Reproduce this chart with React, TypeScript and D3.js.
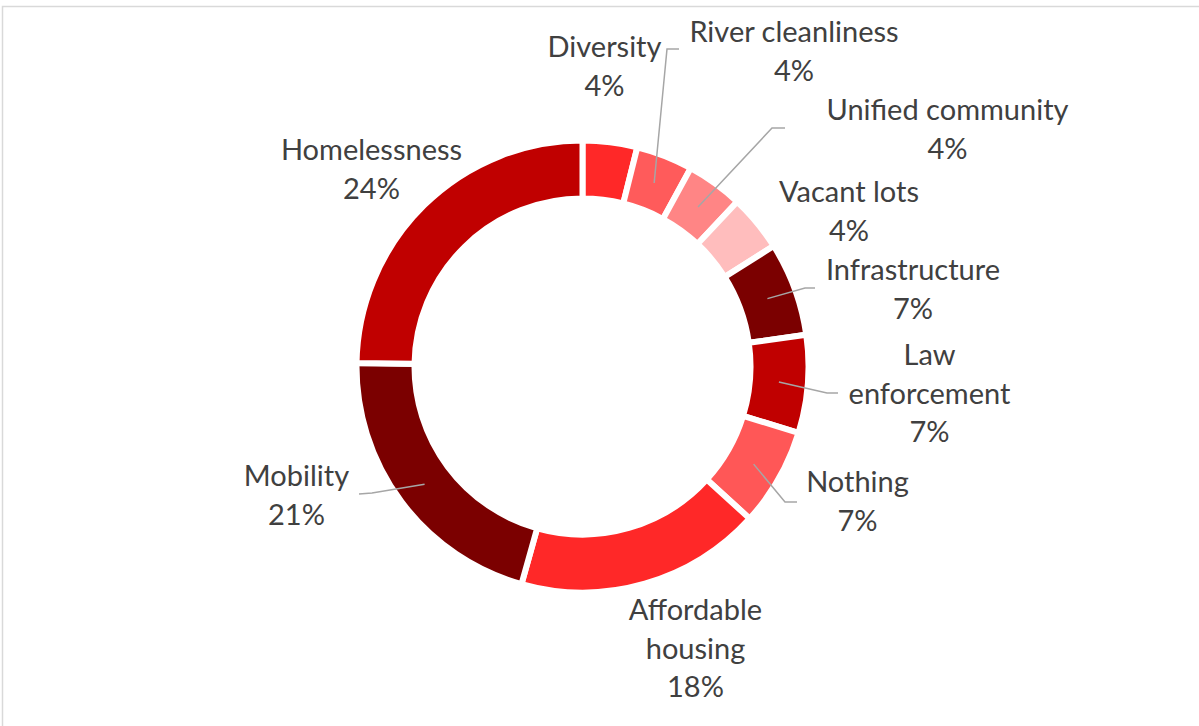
import React from "react";
import * as d3 from "d3";

// ---- data ----
const categories = [
  "Diversity",
  "River cleanliness",
  "Unified community",
  "Vacant lots",
  "Infrastructure",
  "Law enforcement",
  "Nothing",
  "Affordable housing",
  "Mobility",
  "Homelessness",
];
// shares (%)
const values = [3.9, 4.05, 4.05, 4.05, 6.7, 7.0, 7.0, 17.6, 20.9, 24.75];
// percentage labels as printed
const pctLabels = ["4%", "4%", "4%", "4%", "7%", "7%", "7%", "18%", "21%", "24%"];
const colors = [
  "#FF2828",
  "#FF5B5B",
  "#FF8585",
  "#FFBDBD",
  "#7B0000",
  "#C00000",
  "#FF5757",
  "#FF2828",
  "#7B0000",
  "#C00000",
];

// ---- layout (label placement) ----
type LabelLayout = { x: number; y: number; wrap: boolean; elbow?: [number, number]; end?: [number, number] };
const labelLayout: LabelLayout[] = [
  { x: 604.5, y: 57, wrap: false },
  { x: 794, y: 42, wrap: false, elbow: [667, 49], end: [679, 49] },
  { x: 947.5, y: 120, wrap: false, elbow: [772, 128], end: [785, 128] },
  { x: 849, y: 202, wrap: false },
  { x: 913, y: 280, wrap: false, elbow: [805, 288], end: [815, 288] },
  { x: 929.5, y: 365, wrap: true, elbow: [827, 393], end: [838, 393] },
  { x: 857.5, y: 492, wrap: false, elbow: [785, 502], end: [797, 502] },
  { x: 695.5, y: 620, wrap: true },
  { x: 296.5, y: 486, wrap: false, elbow: [372, 493], end: [359, 494] },
  { x: 371.5, y: 160, wrap: false },
];

const W = 1199;
const H = 726;
const cx = 582.5;
const cy = 366.5;
const outerR = 226;
const innerR = 168;
const lineH = 38.5;

export default function App() {
  const pie = d3
    .pie<number>()
    .sort(null)
    .value((d) => d);
  const arcs = pie(values);
  const arc = d3.arc<d3.PieArcDatum<number>>().innerRadius(innerR).outerRadius(outerR);
  const centroidArc = d3
    .arc<d3.PieArcDatum<number>>()
    .innerRadius((innerR + outerR) / 2)
    .outerRadius((innerR + outerR) / 2);

  return (
    <svg
      width={W}
      height={H}
      style={{ position: "absolute", left: 0, top: 0, background: "#fff" }}
      fontFamily="Lato, 'Open Sans', sans-serif"
    >
      <rect x={2.5} y={6.5} width={W + 20} height={H + 20} fill="#fff" stroke="#D9D9D9" strokeWidth={1.5} />
      <g transform={`translate(${cx},${cy})`}>
        {arcs.map((a, i) => (
          <path key={i} d={arc(a) || ""} fill={colors[i]} stroke="#fff" strokeWidth={6} />
        ))}
      </g>
      {arcs.map((a, i) => {
        const L = labelLayout[i];
        if (!L.elbow || !L.end) return null;
        const c = centroidArc.centroid(a);
        const pts: [number, number][] = [[cx + c[0], cy + c[1]], L.elbow, L.end];
        return (
          <path
            key={"l" + i}
            d={d3.line()(pts) || ""}
            fill="none"
            stroke="#A6A6A6"
            strokeWidth={1.5}
          />
        );
      })}
      {categories.map((name, i) => {
        const L = labelLayout[i];
        const lines = L.wrap ? name.split(" ") : [name];
        const all = [...lines, pctLabels[i]];
        return (
          <text key={"t" + i} x={L.x} y={L.y} textAnchor="middle" fill="#404040" fontSize={29}>
            {all.map((s, j) => (
              <tspan key={j} x={L.x} y={L.y + j * lineH}>
                {s}
              </tspan>
            ))}
          </text>
        );
      })}
    </svg>
  );
}
